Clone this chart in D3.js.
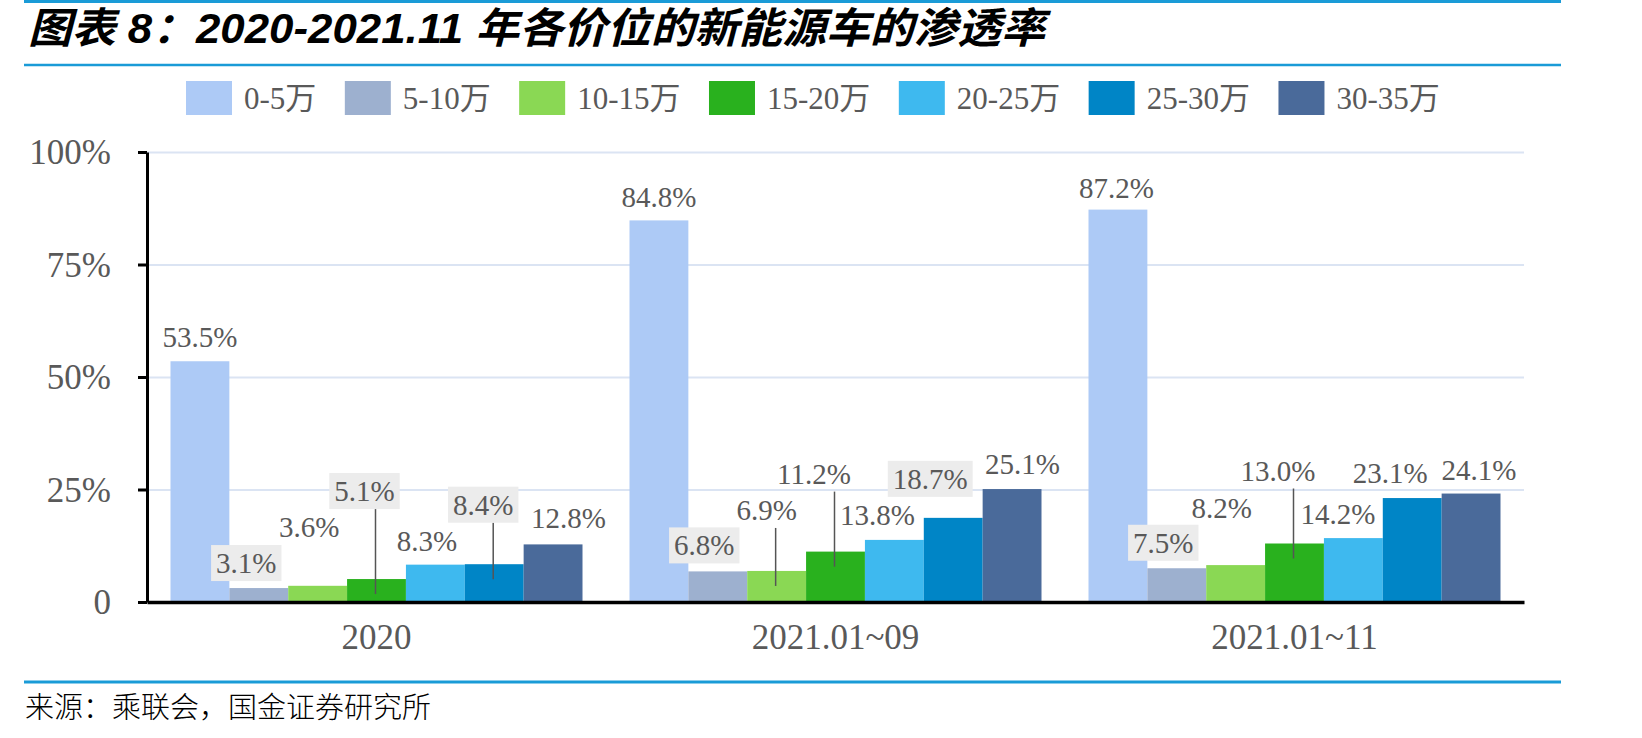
<html>
<head>
  <meta charset="utf-8">
  <script src="https://d3js.org/d3.v7.min.js"></script>
  <style>
    body { margin: 0; background: #fff; }
    .tick text { fill: #595959; font-family: "Liberation Serif", "Times New Roman", serif; }
  </style>
</head>
<body>
  <svg id="chart" width="1642" height="738"></svg>
  <script>
    // data (percent)
    const categories = ["2020", "2021.01~09", "2021.01~11"];
    const priceBands = ["0-5万", "5-10万", "10-15万", "15-20万", "20-25万", "25-30万", "30-35万"];
    const band0to5 = [53.5, 84.8, 87.2];
    const band5to10 = [3.1, 6.8, 7.5];
    const band10to15 = [3.6, 6.9, 8.2];
    const band15to20 = [5.1, 11.2, 13.0];
    const band20to25 = [8.3, 13.8, 14.2];
    const band25to30 = [8.4, 18.7, 23.1];
    const band30to35 = [12.8, 25.1, 24.1];
    const yTicks = [0, 25, 50, 75, 100];

    const seriesValues = [band0to5, band5to10, band10to15, band15to20, band20to25, band25to30, band30to35];
    const colors = ["#adcaf6", "#9db0cf", "#8ad854", "#29b11e", "#3eb9ef", "#0085c6", "#4a6a9a"];

    // label placement tweaks (dx from bar centre, dy from bar top), mimics excel's manual label moves
    const labelLayout = [
      [[0, -14, ""], [-12.5, -15, "box"], [-8.5, -49, ""], [-12, -78, "box leader"], [-8.4, -14, ""], [-11, -49.5, "box leader"], [15.5, -16, ""]],
      [[0, -13, ""], [-13.5, -16, "box"], [-10, -51, "leader"], [-21.5, -68, "leader"], [-17, -15, ""], [-23, -29, "box"], [10.5, -15, ""]],
      [[-1.5, -12, ""], [-13.5, -15.5, "box"], [-14, -47, ""], [-16.5, -63, "leader"], [-15.5, -14, ""], [-22, -15, ""], [8, -14, ""]]
    ];

    const svg = d3.select("#chart");
    const plot = { left: 147, right: 1524, top: 152, bottom: 602 };
    const blue = "#1a9bd7";
    const grey = "#595959";

    // title + rules
    svg.append("line").attr("x1", 24).attr("x2", 1561).attr("y1", 1.5).attr("y2", 1.5)
      .attr("stroke", blue).attr("stroke-width", 3);
    svg.append("text")
      .attr("x", 28).attr("y", 43)
      .attr("textLength", 1017).attr("lengthAdjust", "spacingAndGlyphs")
      .style("font-family", "'Liberation Sans', 'Noto Sans CJK SC', sans-serif")
      .style("font-weight", "bold").style("font-style", "italic")
      .style("font-size", "42px").attr("fill", "#000")
      .text("图表 8：2020-2021.11 年各价位的新能源车的渗透率");
    svg.append("line").attr("x1", 24).attr("x2", 1561).attr("y1", 65).attr("y2", 65)
      .attr("stroke", blue).attr("stroke-width", 2.5);
    svg.append("line").attr("x1", 24).attr("x2", 1561).attr("y1", 682).attr("y2", 682)
      .attr("stroke", blue).attr("stroke-width", 3);
    svg.append("text")
      .attr("x", 25).attr("y", 718)
      .style("font-family", "'Noto Sans CJK SC', sans-serif")
      .style("font-size", "29px").style("font-weight", 300).attr("fill", "#000")
      .text("来源：乘联会，国金证券研究所");

    // scales
    const x0 = d3.scaleBand().domain(categories).range([plot.left, plot.right])
      .paddingInner(0.1024).paddingOuter(0.0512);
    const x1 = d3.scaleBand().domain(priceBands).range([0, x0.bandwidth()]);
    const y = d3.scaleLinear().domain([0, 100]).range([plot.bottom, plot.top]);

    // gridlines
    const grid = svg.append("g")
      .attr("transform", `translate(${plot.left},0)`)
      .call(d3.axisLeft(y).tickValues(yTicks.slice(1)).tickSize(-(plot.right - plot.left)).tickFormat(""));
    grid.select(".domain").remove();
    grid.selectAll("line").attr("stroke", "#dbe4f3").attr("stroke-width", 2);

    // bars
    seriesValues.forEach((vals, s) => {
      svg.append("g").selectAll("rect")
        .data(vals)
        .join("rect")
        .attr("x", (d, i) => x0(categories[i]) + x1(priceBands[s]))
        .attr("y", d => y(d))
        .attr("width", x1.bandwidth())
        .attr("height", d => y(0) - y(d))
        .attr("fill", colors[s]);
    });

    // axes
    const leftAxis = svg.append("g")
      .attr("transform", `translate(${plot.left},0)`)
      .call(d3.axisLeft(y).tickValues(yTicks).tickSize(9).tickSizeOuter(0).tickPadding(27)
        .tickFormat(d => d === 0 ? "0" : d + "%"));
    leftAxis.select(".domain").attr("stroke", "#000").attr("stroke-width", 3);
    leftAxis.selectAll(".tick line").attr("stroke", "#000").attr("stroke-width", 3);
    leftAxis.selectAll(".tick text").style("font-size", "35px").attr("dy", "0.34em");

    const bottomAxis = svg.append("g")
      .attr("transform", `translate(0,${plot.bottom})`)
      .call(d3.axisBottom(x0).tickSize(0).tickPadding(22));
    bottomAxis.select(".domain").attr("stroke", "#000").attr("stroke-width", 3.5);
    bottomAxis.selectAll(".tick text").style("font-size", "35px");

    // data labels
    const labels = svg.append("g")
      .style("font-family", "'Liberation Serif', 'Times New Roman', serif")
      .style("font-size", "29px");
    seriesValues.forEach((vals, s) => {
      vals.forEach((v, i) => {
        const [dx, dy, kind] = labelLayout[i][s];
        const cx = x0(categories[i]) + x1(priceBands[s]) + x1.bandwidth() / 2;
        const top = y(v);
        const base = top + dy;
        const g = labels.append("g");
        if (kind.includes("leader")) {
          g.append("line")
            .attr("x1", cx - 1).attr("x2", cx - 1)
            .attr("y1", base + 8).attr("y2", top + 15)
            .attr("stroke", "#555").attr("stroke-width", 1.5);
        }
        const t = g.append("text")
          .attr("x", cx + dx).attr("y", base)
          .attr("text-anchor", "middle")
          .attr("fill", grey)
          .text(v.toFixed(1) + "%");
        if (kind.includes("box")) {
          const w = t.node().getComputedTextLength() + 10;
          g.insert("rect", "text")
            .attr("x", cx + dx - w / 2).attr("y", base - 28)
            .attr("width", w).attr("height", 36)
            .attr("fill", "#ececec");
        }
      });
    });

    // legend
    const legend = svg.append("g")
      .style("font-family", "'Liberation Serif', 'Noto Sans CJK SC', serif")
      .style("font-size", "31px");
    let lx = 186;
    priceBands.forEach((name, s) => {
      legend.append("rect")
        .attr("x", lx).attr("y", 81)
        .attr("width", 46).attr("height", 34)
        .attr("fill", colors[s]);
      const t = legend.append("text")
        .attr("x", lx + 58).attr("y", 109)
        .attr("fill", grey)
        .text(name);
      lx += 58 + t.node().getComputedTextLength() + 28.5;
    });
  </script>
</body>
</html>
